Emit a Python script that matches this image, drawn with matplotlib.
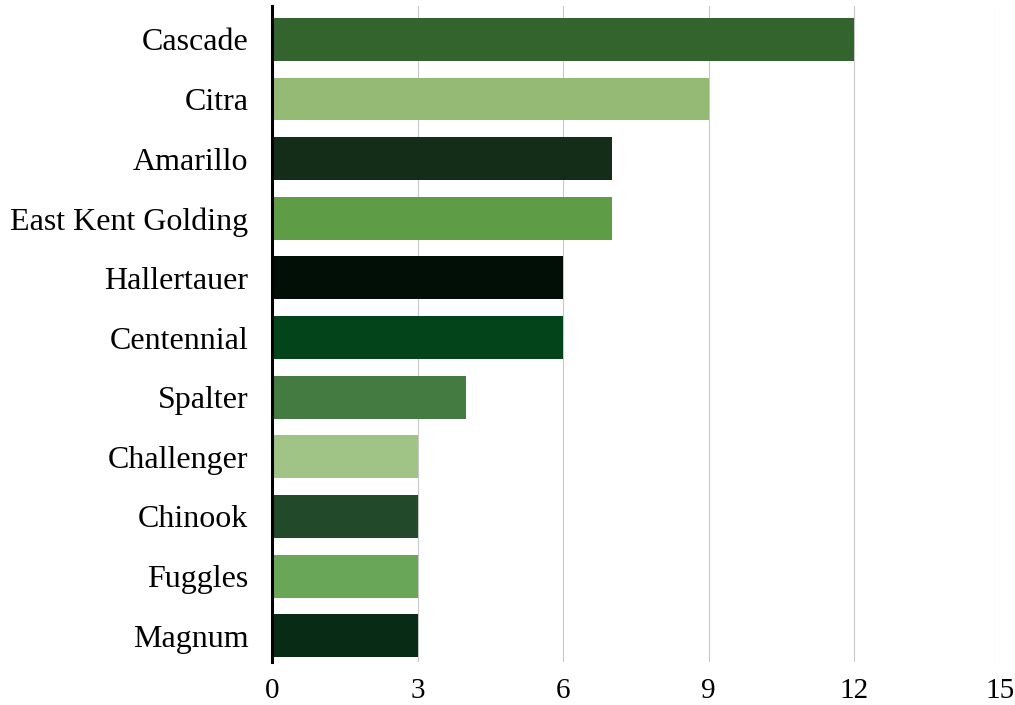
import matplotlib.pyplot as plt

hops = ["Cascade", "Citra", "Amarillo", "East Kent Golding", "Hallertauer",
        "Centennial", "Spalter", "Challenger", "Chinook", "Fuggles", "Magnum"]
counts = [12, 9, 7, 7, 6, 6, 4, 3, 3, 3, 3]
colors = ["#33642e", "#95ba76", "#132d18", "#5e9c46", "#020f07", "#03441a",
          "#447b40", "#a0c386", "#22492a", "#6aa657", "#072b14"]
x_ticks = [0, 3, 6, 9, 12, 15]

plt.rcParams["font.family"] = ["Liberation Serif", "DejaVu Serif"]

fig = plt.figure(figsize=(10.15, 7.05), dpi=100)
ax = fig.add_axes([0.268, 0.061, 0.717, 0.9305])

ypos = list(range(len(hops)))
ax.barh(ypos, counts, height=0.72, color=colors, zorder=2)

ax.set_xlim(0, 15)
ax.set_ylim(len(hops) - 0.56, -0.56)
ax.set_xticks(x_ticks)
ax.set_yticks(ypos)
ax.set_yticklabels(hops)

ax.grid(axis="x", color="#c8c8c8", linewidth=0.8, zorder=0)
ax.tick_params(axis="both", length=0, colors="black")
ax.tick_params(axis="x", pad=11.5, labelsize=21)
ax.tick_params(axis="y", pad=17, labelsize=23)

for side in ["top", "right", "bottom"]:
    ax.spines[side].set_visible(False)
ax.spines["left"].set_linewidth(2.2)
ax.spines["left"].set_color("black")
ax.spines["left"].set_zorder(3)

plt.savefig("out.png", dpi=100)
plt.close()
